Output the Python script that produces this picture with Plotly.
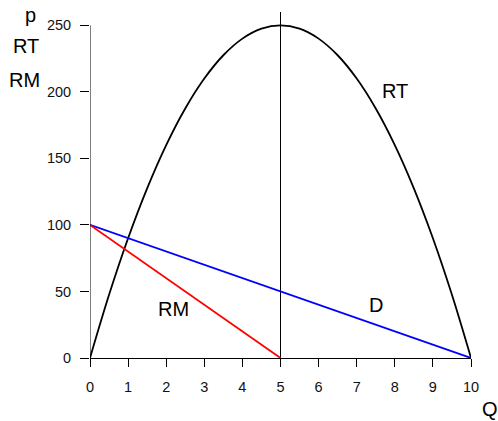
import plotly.graph_objects as go

# Data
q_rt = [0, 0.5, 1, 1.5, 2, 2.5, 3, 3.5, 4, 4.5, 5, 5.5, 6, 6.5, 7, 7.5, 8, 8.5, 9, 9.5, 10]
rt = [0, 47.5, 90, 127.5, 160, 187.5, 210, 227.5, 240, 247.5, 250,
      247.5, 240, 227.5, 210, 187.5, 160, 127.5, 90, 47.5, 0]
q_d = [0, 10]
p_d = [100, 0]
q_rm = [0, 5]
p_rm = [100, 0]
q_v = [5, 5]
p_v = [0, 260]
x_ticks = list(range(0, 11))
y_ticks = [0, 50, 100, 150, 200, 250]

W, H = 498, 421
L, R, T, B = 90, 27, 12, 63
pw, ph = W - L - R, H - T - B

def px(xp):
    return (xp - L) / pw

def py(yp):
    return (H - B - yp) / ph

font = "Liberation Sans, Arial, sans-serif"
fig = go.Figure()
fig.add_trace(go.Scatter(x=q_v, y=p_v, mode="lines", line=dict(color="black", width=1), cliponaxis=False))
fig.add_trace(go.Scatter(x=q_rt, y=rt, mode="lines", line=dict(color="black", width=1.8, shape="spline"), cliponaxis=False))
fig.add_trace(go.Scatter(x=q_d, y=p_d, mode="lines", line=dict(color="#0000ff", width=1.8), cliponaxis=False))
fig.add_trace(go.Scatter(x=q_rm, y=p_rm, mode="lines", line=dict(color="#ff0000", width=1.8), cliponaxis=False))

fig.add_shape(type="line", xref="x", yref="y", x0=0, x1=0, y0=0, y1=250, line=dict(color="black", width=1))

fig.update_layout(
    width=W, height=H, margin=dict(l=L, r=R, t=T, b=B),
    paper_bgcolor="white", plot_bgcolor="white", showlegend=False,
    font=dict(family=font, size=14.5, color="#111111"),
    xaxis=dict(range=[0, 10], tickvals=x_ticks, ticks="outside", ticklen=8, tickcolor="black",
               showline=True, linecolor="black", linewidth=1, showgrid=False, zeroline=False,
               ticklabelstandoff=8, fixedrange=True),
    yaxis=dict(range=[0, 260], tickvals=y_ticks, ticks="outside", ticklen=9, tickcolor="black",
               showline=False, showgrid=False, zeroline=False, ticklabelstandoff=6, fixedrange=True),
)

big = dict(family=font, size=20, color="black")
for txt, xp_, yp_ in [("p", 31, 15), ("RT", 26, 46.5), ("RM", 24, 79.5)]:
    fig.add_annotation(text=txt, xref="paper", yref="paper", x=px(xp_), y=py(yp_),
                       showarrow=False, font=big, xanchor="center", yanchor="middle")
fig.add_annotation(text="Q", xref="paper", yref="paper", x=px(489.5), y=py(421),
                   showarrow=False, font=big, xanchor="center", yanchor="bottom", borderpad=0)
for txt, xv, yv in [("RT", 8.0, 200.5), ("D", 7.5, 39.5), ("RM", 2.19, 36.5)]:
    fig.add_annotation(text=txt, x=xv, y=yv, showarrow=False, font=big,
                       xanchor="center", yanchor="middle")

fig.write_html("out.html", config={"displayModeBar": False},
               post_script="document.body.style.margin='0';document.body.style.overflow='hidden';")
